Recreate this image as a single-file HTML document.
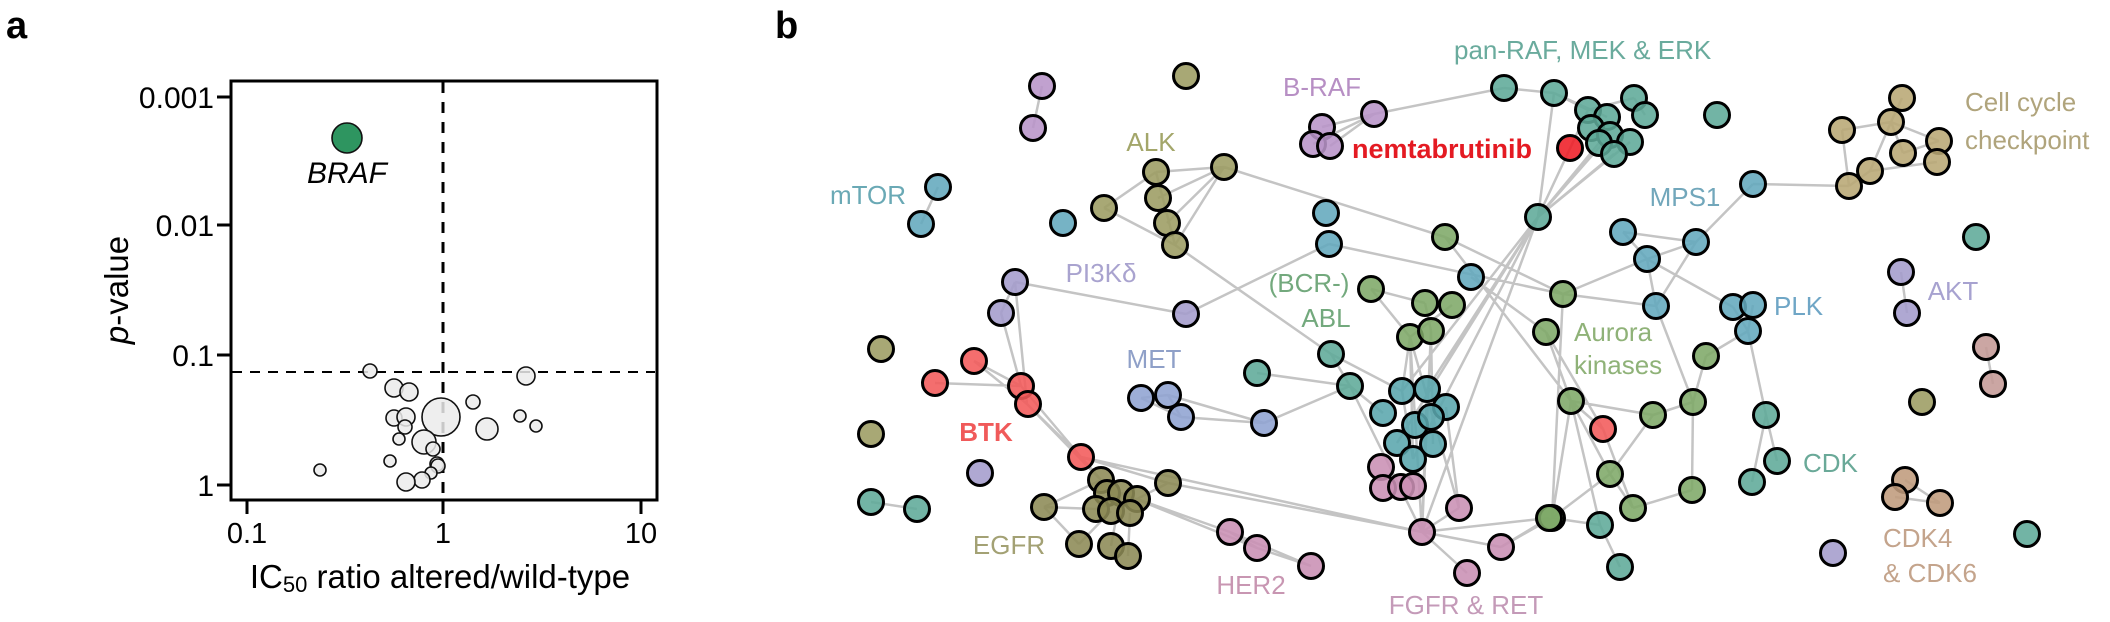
<!DOCTYPE html>
<html><head><meta charset="utf-8"><style>
html,body{margin:0;padding:0;background:#fff;}
svg{display:block;font-family:"Liberation Sans",Arial,sans-serif;}
</style></head><body>
<svg width="2110" height="622" viewBox="0 0 2110 622" xmlns="http://www.w3.org/2000/svg">
<text x="6" y="38" font-size="38" font-weight="bold">a</text>
<text x="775" y="38" font-size="38" font-weight="bold">b</text>
<!-- Panel a -->
<g>
<line x1="443" y1="82" x2="443" y2="498" stroke="#000" stroke-width="3" stroke-dasharray="11,9"/>
<line x1="232" y1="372" x2="655" y2="372" stroke="#000" stroke-width="2" stroke-dasharray="10,8"/>
<g fill="#ebebeb" stroke="#111" stroke-width="1.6" fill-opacity="0.85">
<circle cx="370" cy="371" r="7"/><circle cx="526" cy="376" r="9"/><circle cx="394" cy="388" r="9"/><circle cx="409" cy="392" r="9"/>
<circle cx="473" cy="402" r="7"/><circle cx="441" cy="417" r="19"/><circle cx="394" cy="418" r="8"/><circle cx="406" cy="417" r="9"/>
<circle cx="520" cy="416" r="6"/><circle cx="405" cy="427" r="7"/><circle cx="487" cy="429" r="11"/><circle cx="536" cy="426" r="6"/>
<circle cx="399" cy="439" r="6"/><circle cx="424" cy="442" r="12"/><circle cx="433" cy="449" r="7"/><circle cx="390" cy="461" r="6"/>
<circle cx="437" cy="464" r="7"/><circle cx="438" cy="466" r="7"/><circle cx="320" cy="470" r="6"/><circle cx="431" cy="473" r="6"/>
<circle cx="422" cy="480" r="8"/><circle cx="406" cy="482" r="9"/>
</g>
<circle cx="347" cy="138" r="15" fill="#2e9560" stroke="#111" stroke-width="1.6"/>
<text x="347" y="183" font-size="30" font-style="italic" text-anchor="middle">BRAF</text>
<rect x="231" y="81" width="426" height="419" fill="none" stroke="#000" stroke-width="3"/>
<g stroke="#000" stroke-width="3">
<line x1="217" y1="97" x2="231" y2="97"/><line x1="217" y1="225" x2="231" y2="225"/><line x1="217" y1="355" x2="231" y2="355"/><line x1="217" y1="485" x2="231" y2="485"/>
<line x1="247" y1="500" x2="247" y2="514"/><line x1="443" y1="500" x2="443" y2="514"/><line x1="641" y1="500" x2="641" y2="514"/>
</g>
<g font-size="30" text-anchor="end">
<text x="214" y="108">0.001</text><text x="214" y="236">0.01</text><text x="214" y="366">0.1</text><text x="214" y="496">1</text>
</g>
<g font-size="29" text-anchor="middle">
<text x="247" y="543">0.1</text><text x="443" y="543">1</text><text x="641" y="543">10</text>
</g>
<text x="440" y="588" font-size="33" text-anchor="middle">IC<tspan font-size="22" dy="4">50</tspan><tspan dy="-4"> ratio altered/wild-type</tspan></text>
<text transform="translate(128,290) rotate(-90)" font-size="33" text-anchor="middle"><tspan font-style="italic">p</tspan>-value</text>
</g>
<!-- Panel b edges -->
<g stroke="#c4c4c4" stroke-width="2.5" fill="none">
<path d="M1042,86L1033,128 M938,187L921,224
M1156,172L1224,167 M1156,172L1104,208 M1104,208L1175,245 M1158,198L1224,167 M1167,223L1224,167 M1175,245L1224,167 M1156,172L1175,245
M1224,167L1445,237 M1175,245L1331,354
M1015,282L1186,314 M1015,282L1001,313 M1186,314L1329,244 M1329,244L1563,294 M1445,237L1563,294 M1371,289L1425,303
M1322,127L1374,114 M1313,144L1374,114 M1330,146L1374,114 M1374,114L1504,88 M1504,88L1554,93
M1554,93L1588,110 M1554,93L1607,117 M1588,110L1634,98 M1634,98L1645,115 M1554,93L1538,217
M1538,217L1588,110 M1538,217L1599,143 M1538,217L1610,135 M1538,217L1614,154 M1538,217L1630,142
M1538,217L1402,391 M1538,217L1413,459 M1538,217L1422,532 M1538,217L1427,389 M1538,217L1397,443
M1842,130L1891,122 M1891,122L1902,98 M1891,122L1939,141 M1891,122L1870,171 M1842,130L1849,186 M1849,186L1870,171 M1870,171L1937,162 M1903,153L1939,141 M1891,122L1903,153 M1753,184L1849,186
M1753,184L1696,242 M1623,232L1696,242 M1623,232L1647,259 M1647,259L1696,242 M1647,259L1563,294 M1647,259L1656,306 M1647,259L1733,307 M1696,242L1656,306 M1563,294L1656,306
M1733,307L1748,331 M1753,305L1748,331 M1748,331L1706,356 M1748,331L1766,415 M1766,415L1777,461 M1766,415L1752,482
M1901,272L1907,313 M1986,347L1993,384 M1905,480L1940,503 M1895,497L1940,503
M1546,332L1571,401 M1571,401L1653,415 M1653,415L1693,402 M1693,402L1706,356 M1706,356L1748,331 M1693,402L1692,490 M1653,415L1610,474 M1571,401L1610,474 M1571,401L1552,518 M1571,401L1600,525 M1610,474L1633,508 M1633,508L1692,490 M1552,518L1600,525 M1600,525L1620,567 M1552,518L1610,474 M1552,518L1501,547 M1603,429L1633,508 M1571,401L1603,429 M1546,332L1603,429 M1656,306L1693,402 M1445,237L1571,401 M1471,277L1546,332 M1563,294L1552,518
M1371,289L1410,337 M1425,303L1431,331 M1452,305L1410,337 M1257,373L1350,386 M1264,423L1350,386 M1331,354L1402,391 M1350,386L1383,413 M1350,386L1422,532 M1331,354L1350,386
M1410,337L1422,532 M1410,337L1402,391 M1410,337L1413,459 M1410,337L1459,508 M1431,331L1433,444 M1431,331L1422,532 M1402,391L1413,459 M1427,389L1422,532 M1446,407L1459,508
M1422,532L1549,518 M1422,532L1501,547 M1422,532L1467,573 M1501,547L1549,518 M1459,508L1422,532
M1141,398L1168,395 M1168,395L1181,417 M1168,395L1264,423 M1181,417L1264,423 M1141,398L1181,417
M974,361L1021,386 M935,383L1021,386 M1001,313L1021,386 M1015,282L1027,404 M974,361L1027,404 M1027,404L1081,457 M1021,386L1081,457 M1081,457L1101,480 M1081,457L1168,483 M1027,404L1101,480
M1044,507L1101,480 M1044,507L1096,509 M1044,507L1079,544 M1079,544L1111,511 M1111,546L1121,493 M1128,556L1130,513 M1096,509L1137,499
M1168,483L1137,499 M1137,499L1230,532 M1230,532L1257,548 M1257,548L1311,566 M1230,532L1311,566 M1121,493L1257,548 M1081,457L1422,532 M1168,483L1422,532
M871,502L917,509"/>
</g>
<!-- Panel b nodes -->
<g stroke="#000" stroke-width="3" fill-opacity="0.88">
<g fill="#b894c8"><circle cx="1042" cy="86" r="12.5"/><circle cx="1033" cy="128" r="12.5"/><circle cx="1374" cy="114" r="12.5"/><circle cx="1322" cy="127" r="12.5"/><circle cx="1313" cy="144" r="12.5"/><circle cx="1330" cy="146" r="12.5"/></g>
<g fill="#9c9c62"><circle cx="1186" cy="76" r="12.5"/><circle cx="1224" cy="167" r="12.5"/><circle cx="1156" cy="172" r="12.5"/><circle cx="1158" cy="198" r="12.5"/><circle cx="1104" cy="208" r="12.5"/><circle cx="1167" cy="223" r="12.5"/><circle cx="1175" cy="245" r="12.5"/>
<circle cx="881" cy="349" r="12.5"/><circle cx="871" cy="434" r="12.5"/><circle cx="1922" cy="402" r="12.5"/></g>
<g fill="#8c8a55"><circle cx="1044" cy="507" r="12.5"/><circle cx="1101" cy="480" r="12.5"/><circle cx="1107" cy="493" r="12.5"/><circle cx="1121" cy="493" r="12.5"/><circle cx="1137" cy="499" r="12.5"/><circle cx="1096" cy="509" r="12.5"/><circle cx="1111" cy="511" r="12.5"/><circle cx="1130" cy="513" r="12.5"/><circle cx="1168" cy="483" r="12.5"/><circle cx="1079" cy="544" r="12.5"/><circle cx="1111" cy="546" r="12.5"/><circle cx="1128" cy="556" r="12.5"/></g>
<g fill="#63a9bd"><circle cx="938" cy="187" r="12.5"/><circle cx="921" cy="224" r="12.5"/><circle cx="1063" cy="223" r="12.5"/><circle cx="1326" cy="213" r="12.5"/><circle cx="1329" cy="244" r="12.5"/><circle cx="1471" cy="277" r="12.5"/>
<circle cx="1753" cy="184" r="12.5"/><circle cx="1623" cy="232" r="12.5"/><circle cx="1696" cy="242" r="12.5"/><circle cx="1647" cy="259" r="12.5"/><circle cx="1656" cy="306" r="12.5"/><circle cx="1733" cy="307" r="12.5"/><circle cx="1753" cy="305" r="12.5"/><circle cx="1748" cy="331" r="12.5"/></g>
<g fill="#5faa98"><circle cx="1504" cy="88" r="12.5"/><circle cx="1554" cy="93" r="12.5"/><circle cx="1588" cy="110" r="12.5"/><circle cx="1634" cy="98" r="12.5"/><circle cx="1645" cy="115" r="12.5"/><circle cx="1607" cy="117" r="12.5"/><circle cx="1591" cy="128" r="12.5"/><circle cx="1610" cy="135" r="12.5"/><circle cx="1630" cy="142" r="12.5"/><circle cx="1599" cy="143" r="12.5"/><circle cx="1614" cy="154" r="12.5"/><circle cx="1717" cy="115" r="12.5"/><circle cx="1538" cy="217" r="12.5"/><circle cx="1976" cy="237" r="12.5"/>
<circle cx="1766" cy="415" r="12.5"/><circle cx="1777" cy="461" r="12.5"/><circle cx="1752" cy="482" r="12.5"/><circle cx="1600" cy="525" r="12.5"/><circle cx="1620" cy="567" r="12.5"/><circle cx="2027" cy="534" r="12.5"/>
<circle cx="1257" cy="373" r="12.5"/><circle cx="1331" cy="354" r="12.5"/><circle cx="1350" cy="386" r="12.5"/><circle cx="871" cy="502" r="12.5"/><circle cx="917" cy="509" r="12.5"/></g>
<g fill="#5aa6ad"><circle cx="1402" cy="391" r="12.5"/><circle cx="1427" cy="389" r="12.5"/><circle cx="1446" cy="407" r="12.5"/><circle cx="1383" cy="413" r="12.5"/><circle cx="1415" cy="425" r="12.5"/><circle cx="1431" cy="417" r="12.5"/><circle cx="1397" cy="443" r="12.5"/><circle cx="1433" cy="444" r="12.5"/><circle cx="1413" cy="459" r="12.5"/></g>
<g fill="#7ea868"><circle cx="1445" cy="237" r="12.5"/><circle cx="1371" cy="289" r="12.5"/><circle cx="1425" cy="303" r="12.5"/><circle cx="1452" cy="305" r="12.5"/><circle cx="1410" cy="337" r="12.5"/><circle cx="1431" cy="331" r="12.5"/><circle cx="1563" cy="294" r="12.5"/>
<circle cx="1546" cy="332" r="12.5"/><circle cx="1706" cy="356" r="12.5"/><circle cx="1571" cy="401" r="12.5"/><circle cx="1653" cy="415" r="12.5"/><circle cx="1693" cy="402" r="12.5"/><circle cx="1610" cy="474" r="12.5"/><circle cx="1633" cy="508" r="12.5"/><circle cx="1692" cy="490" r="12.5"/><circle cx="1552" cy="518" r="12.5"/><circle cx="1549" cy="518" r="12.5"/></g>
<g fill="#a49ccc"><circle cx="1015" cy="282" r="12.5"/><circle cx="1001" cy="313" r="12.5"/><circle cx="1186" cy="314" r="12.5"/><circle cx="980" cy="473" r="12.5"/><circle cx="1901" cy="272" r="12.5"/><circle cx="1907" cy="313" r="12.5"/><circle cx="1833" cy="553" r="12.5"/></g>
<g fill="#8fa3d2"><circle cx="1141" cy="398" r="12.5"/><circle cx="1168" cy="395" r="12.5"/><circle cx="1181" cy="417" r="12.5"/><circle cx="1264" cy="423" r="12.5"/></g>
<g fill="#f25a5a"><circle cx="974" cy="361" r="12.5"/><circle cx="935" cy="383" r="12.5"/><circle cx="1021" cy="386" r="12.5"/><circle cx="1028" cy="404" r="12.5"/><circle cx="1081" cy="457" r="12.5"/><circle cx="1603" cy="429" r="12.5"/></g>
<circle cx="1570" cy="148" r="12.5" fill="#ee1c25"/>
<g fill="#c98fb4"><circle cx="1381" cy="467" r="12.5"/><circle cx="1383" cy="488" r="12.5"/><circle cx="1401" cy="487" r="12.5"/><circle cx="1413" cy="486" r="12.5"/><circle cx="1459" cy="508" r="12.5"/><circle cx="1422" cy="532" r="12.5"/><circle cx="1501" cy="547" r="12.5"/><circle cx="1467" cy="573" r="12.5"/>
<circle cx="1230" cy="532" r="12.5"/><circle cx="1257" cy="548" r="12.5"/><circle cx="1311" cy="566" r="12.5"/></g>
<g fill="#b8a774"><circle cx="1902" cy="98" r="12.5"/><circle cx="1891" cy="122" r="12.5"/><circle cx="1842" cy="130" r="12.5"/><circle cx="1939" cy="141" r="12.5"/><circle cx="1903" cy="153" r="12.5"/><circle cx="1937" cy="162" r="12.5"/><circle cx="1870" cy="171" r="12.5"/><circle cx="1849" cy="186" r="12.5"/></g>
<g fill="#c49a96"><circle cx="1986" cy="347" r="12.5"/><circle cx="1993" cy="384" r="12.5"/></g>
<g fill="#bf9b7c"><circle cx="1905" cy="480" r="12.5"/><circle cx="1895" cy="497" r="12.5"/><circle cx="1940" cy="503" r="12.5"/></g>
</g>
<!-- Panel b labels -->
<g font-size="26">
<text x="868" y="204" text-anchor="middle" fill="#6aa9b5">mTOR</text>
<text x="1151" y="151" text-anchor="middle" fill="#a3a66a">ALK</text>
<text x="1101" y="282" text-anchor="middle" fill="#a9a3cf">PI3Kδ</text>
<text x="1322" y="96" text-anchor="middle" fill="#b78fc4">B-RAF</text>
<text x="1352" y="158" fill="#e41a22" font-weight="bold" font-size="27">nemtabrutinib</text>
<text x="1454" y="59" fill="#6aab9d">pan-RAF, MEK &amp; ERK</text>
<text x="1965" y="111" fill="#b0a47c">Cell cycle</text>
<text x="1965" y="149" fill="#b0a47c">checkpoint</text>
<text x="1685" y="206" text-anchor="middle" fill="#72a7bb">MPS1</text>
<text x="1309" y="292" text-anchor="middle" fill="#73a97d">(BCR-)</text>
<text x="1326" y="327" text-anchor="middle" fill="#73a97d">ABL</text>
<text x="1953" y="300" text-anchor="middle" fill="#a7a2d0">AKT</text>
<text x="1774" y="315" fill="#6fa6c6">PLK</text>
<text x="1574" y="341" fill="#8fb278">Aurora</text>
<text x="1574" y="374" fill="#8fb278">kinases</text>
<text x="1154" y="368" text-anchor="middle" fill="#8fa0c8">MET</text>
<text x="986" y="441" text-anchor="middle" fill="#f05a5a" font-weight="bold">BTK</text>
<text x="1009" y="554" text-anchor="middle" fill="#a3a174">EGFR</text>
<text x="1251" y="594" text-anchor="middle" fill="#c896b2">HER2</text>
<text x="1466" y="614" text-anchor="middle" fill="#c49ab8">FGFR &amp; RET</text>
<text x="1803" y="472" fill="#6aa998">CDK</text>
<text x="1883" y="547" fill="#c4a48c">CDK4</text>
<text x="1883" y="582" fill="#c4a48c">&amp; CDK6</text>
</g>
</svg>
</body></html>
